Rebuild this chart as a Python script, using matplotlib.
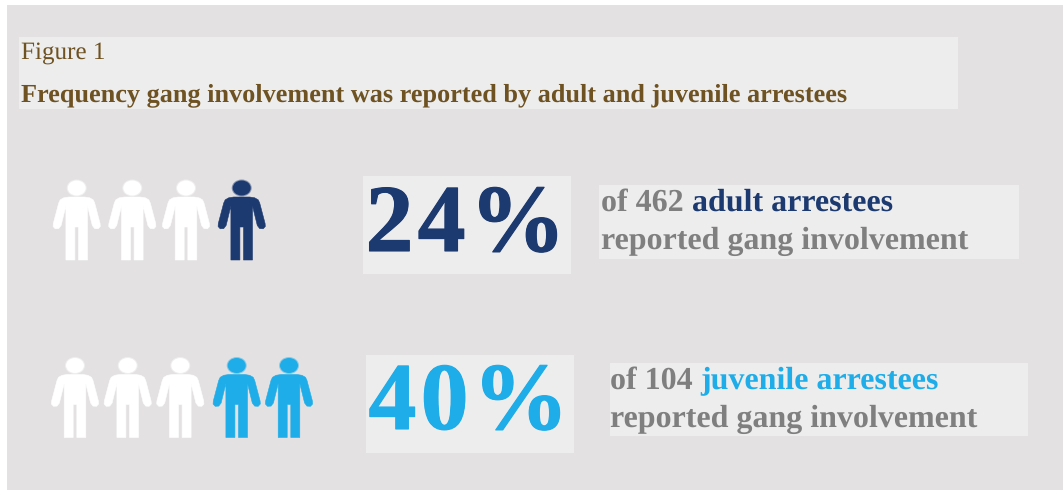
import matplotlib
matplotlib.use("Agg")
import matplotlib.pyplot as plt
import matplotlib.patheffects as pe
from matplotlib.patches import Rectangle, Ellipse, Polygon

# Figures reported in the graphic
figure_label = "Figure 1"
headline = "Frequency gang involvement was reported by adult and juvenile arrestees"
percent_values = [24, 40]
sample_sizes = [462, 104]
group_names = ["adult arrestees", "juvenile arrestees"]
highlighted_people = [1, 2]
total_people = [4, 5]

NAVY = "#1C3A70"
SKY = "#1EADE8"
BROWN = "#6E5222"
GREY = "#7F7F7F"
PANEL = "#E3E1E2"
BOX = "#EDEDED"

plt.rcParams["font.family"] = ["Liberation Serif", "DejaVu Serif"]
plt.rcParams["text.hinting"] = "none"

fig = plt.figure(figsize=(10.63, 4.90), dpi=100, facecolor="white")
ax = fig.add_axes([0, 0, 1, 1])
ax.set_xlim(0, 1063)
ax.set_ylim(490, 0)
ax.axis("off")


def box(x0, y0, x1, y1, color=BOX):
    ax.add_patch(Rectangle((x0, y0), x1 - x0, y1 - y0, fc=color, ec="none"))


# Outline of one side of the body, relative to the centre of the head
HALF_BODY = [(0, 9), (-8, 9), (-13, 9.8), (-16.5, 11.8), (-18, 15), (-23.4, 35.5),
             (-23.6, 38.5), (-21.5, 40.8), (-18, 40.6), (-15.6, 37.5), (-10.8, 18),
             (-10.8, 72), (-1.8, 72), (-1.8, 39)]


def person(cx, cy, color):
    right = [(-x, y) for x, y in reversed(HALF_BODY)]
    ax.add_patch(Polygon([(cx + x, cy + y) for x, y in HALF_BODY + right[:-1]],
                         closed=True, fc=color, ec=color, lw=0.4, joinstyle="round"))
    # Soft rim around the head
    ax.add_patch(Ellipse((cx, cy), 20, 17, fc=color, ec="none", alpha=0.45))
    ax.add_patch(Ellipse((cx, cy), 18, 15, fc=color, ec="none"))


def advance(string, size):
    """Pen advance of a bold string, trailing spaces included."""
    renderer = fig.canvas.get_renderer()
    probe = ax.text(0, 0, string + "|", fontsize=size, fontweight="bold")
    bar = ax.text(0, 0, "|", fontsize=size, fontweight="bold")
    width = probe.get_window_extent(renderer).width - bar.get_window_extent(renderer).width
    probe.remove()
    bar.remove()
    return width


def segments(x, y, parts, size):
    """Write coloured bold runs one after another on a shared baseline."""
    for string, color in parts:
        ax.text(x, y, string, color=color, fontsize=size, fontweight="bold",
                ha="left", va="baseline")
        x += advance(string, size)


def tracked(x, y, string, color, size, gap):
    """Write bold characters one at a time, thickened, with extra spacing."""
    for ch in string:
        t = ax.text(x, y, ch, color=color, fontsize=size, fontweight="bold",
                    ha="left", va="baseline")
        t.set_path_effects([pe.withStroke(linewidth=0.8, foreground=color)])
        x += advance(ch, size) + gap


box(7, 5, 1063, 490, PANEL)

# Heading
box(19, 37, 958, 109)
ax.text(21, 59, figure_label, color=BROWN, fontsize=18.1, ha="left", va="baseline")
ax.text(21, 101, headline, color=BROWN, fontsize=18.9, fontweight="bold",
        ha="left", va="baseline")

# One row per arrestee group
rows = [
    dict(heads=[76.7, 132.3, 186, 241.7], head_y=188, color=NAVY,
         pct_box=(363, 176, 571, 274), pct_xy=(365.5, 251),
         txt_box=(599, 185, 1019, 259), line1=(601, 211), line2=(601, 249)),
    dict(heads=[75, 127.7, 180.3, 236.7, 289], head_y=365.5, color=SKY,
         pct_box=(366, 355, 574, 453), pct_xy=(368.5, 429),
         txt_box=(610, 363, 1028, 436), line1=(610, 389), line2=(610, 426.5)),
]

for i, row in enumerate(rows):
    plain = total_people[i] - highlighted_people[i]
    for j, cx in enumerate(row["heads"][:total_people[i]]):
        person(cx, row["head_y"], "white" if j < plain else row["color"])

    box(*row["pct_box"])
    tracked(*row["pct_xy"], f"{percent_values[i]}%", row["color"], 69, 4.2)

    box(*row["txt_box"])
    segments(*row["line1"], [(f"of {sample_sizes[i]} ", GREY), (group_names[i], row["color"])], 23)
    segments(*row["line2"], [("reported gang involvement", GREY)], 23)

fig.savefig("out.png", dpi=100, facecolor="white")
